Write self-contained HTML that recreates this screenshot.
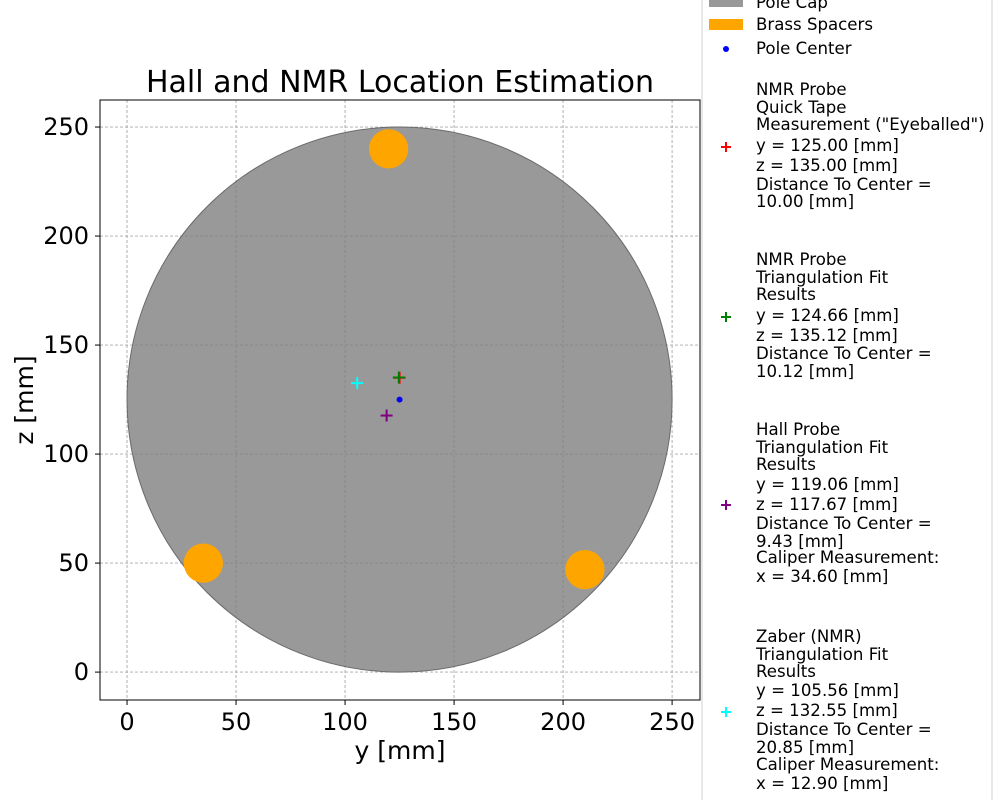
<!DOCTYPE html>
<html><head><meta charset="utf-8"><style>
html,body{margin:0;padding:0;background:#fff;}
svg{display:block;font-family:"DejaVu Sans","Liberation Sans",sans-serif;}
</style></head><body>
<svg id="chart" width="1000" height="800">
<text x="400" y="92" font-size="30" text-anchor="middle">Hall and NMR Location Estimation</text>
<g id="grid"></g><g id="marks"></g><g id="axes"></g><g id="legend"></g>
</svg>
<script>
const ticks=[0,50,100,150,200,250];
const poleCap=[125,125,125];
const spacerY=[35,120,210];
const spacerZ=[50,240,47];
const spacerR=9;
const pointNames=['nmr-tape','nmr-fit','hall-fit','zaber-fit'];
const pointY=[125.00,124.66,119.06,105.56];
const pointZ=[135.00,135.12,117.67,132.55];
const pointColors=['red','green','purple','cyan'];
const centerY=[125], centerZ=[125];
const X0=100,X1=700,Y0=100,Y1=700,xmin=-12.4,xmax=262.8,ymin=-12.8,ymax=262.4;
const sx=v=>X0+(v-xmin)/(xmax-xmin)*(X1-X0);
const sy=v=>Y1-(v-ymin)/(ymax-ymin)*(Y1-Y0);
const k=(X1-X0)/(xmax-xmin);
const NS='http://www.w3.org/2000/svg';
function mk(p,t,a){const e=document.createElementNS(NS,t);for(const n in a)e.setAttribute(n,a[n]);p.appendChild(e);return e;}
const grid=document.getElementById('grid'),marks=document.getElementById('marks'),axes=document.getElementById('axes'),leg=document.getElementById('legend');
ticks.forEach(t=>{
 let g=mk(grid,'line',{x1:sx(t),x2:sx(t),y1:Y0,y2:Y1,stroke:'#a8a8a8','stroke-dasharray':'3,2','stroke-width':0.9});
 
 g=mk(grid,'line',{x1:X0,x2:X1,y1:sy(t),y2:sy(t),stroke:'#a8a8a8','stroke-dasharray':'3,2','stroke-width':0.9});
 
 mk(axes,'line',{x1:sx(t),x2:sx(t),y1:Y1,y2:Y1+5,stroke:'#000'});
 let tx=mk(axes,'text',{x:sx(t),y:Y1+30,'font-size':24,'text-anchor':'middle'});tx.textContent=t;
 
 mk(axes,'line',{x1:X0-5,x2:X0,y1:sy(t),y2:sy(t),stroke:'#000'});
 tx=mk(axes,'text',{x:X0-11,y:sy(t)+8,'font-size':24,'text-anchor':'end'});tx.textContent=t;
 
});
let c=mk(marks,'circle',{cx:sx(poleCap[0]),cy:sy(poleCap[1]),r:poleCap[2]*k,fill:'#808080','fill-opacity':0.8,stroke:'#6a6a6a'});

spacerY.forEach((v,i)=>{const e=mk(marks,'circle',{cx:sx(v),cy:sy(spacerZ[i]),r:spacerR*k,fill:'orange'});
 });
centerY.forEach((v,i)=>{const e=mk(marks,'circle',{cx:sx(v),cy:sy(centerZ[i]),r:3,fill:'blue'});
 });
function plus(p,x,y,col,s){const g=mk(p,'g',{stroke:col,'stroke-width':2});mk(g,'line',{x1:x-s,x2:x+s,y1:y,y2:y});mk(g,'line',{x1:x,x2:x,y1:y-s,y2:y+s});return g;}
pointY.forEach((v,i)=>{const g=plus(marks,sx(v),sy(pointZ[i]),pointColors[i],6);
 });
mk(axes,'rect',{x:X0,y:Y0,width:X1-X0,height:Y1-Y0,fill:'none',stroke:'#000','stroke-width':1});
let t=mk(axes,'text',{x:400,y:759,'font-size':25,'text-anchor':'middle'});t.textContent='y [mm]';

t=mk(axes,'text',{x:33,y:400,'font-size':25,'text-anchor':'middle',transform:'rotate(-90 33 400)'});t.textContent='z [mm]';

let lb=mk(leg,'rect',{x:702,y:-10,width:290,height:820,fill:'#fff',stroke:'#d0d0d0'});

function ltext(s,y){const e=mk(leg,'text',{x:756,y:y+6,'font-size':16.6});e.textContent=s;return e;}
mk(leg,'rect',{x:709,y:-4,width:34,height:11,fill:'#999'});ltext('Pole Cap',2);
mk(leg,'rect',{x:709,y:19,width:34,height:11,fill:'orange'});ltext('Brass Spacers',24);
mk(leg,'circle',{cx:726,cy:49,r:3,fill:'blue'});ltext('Pole Center',48);
const blocks=[
 {col:'red',my:147,lines:['NMR Probe','Quick Tape','Measurement ("Eyeballed")','y = 125.00 [mm]','z = 135.00 [mm]','Distance To Center =','10.00 [mm]'],ys:[89,107,124,145,165,184,201]},
 {col:'green',my:317,lines:['NMR Probe','Triangulation Fit','Results','y = 124.66 [mm]','z = 135.12 [mm]','Distance To Center =','10.12 [mm]'],ys:[259,277,294,315,335,353,371]},
 {col:'purple',my:505,lines:['Hall Probe','Triangulation Fit','Results','y = 119.06 [mm]','z = 117.67 [mm]','Distance To Center =','9.43 [mm]','Caliper Measurement:','x = 34.60 [mm]'],ys:[429,447,464,484,504,523,541,557,576]},
 {col:'cyan',my:712,lines:['Zaber (NMR)','Triangulation Fit','Results','y = 105.56 [mm]','z = 132.55 [mm]','Distance To Center =','20.85 [mm]','Caliper Measurement:','x = 12.90 [mm]'],ys:[636,654,671,690,710,729,747,764,783]}
];
blocks.forEach((b,i)=>{const g=plus(leg,726,b.my,b.col,5);
 
 b.lines.forEach((s,j)=>ltext(s,b.ys[j]));});
</script>
</body></html>
